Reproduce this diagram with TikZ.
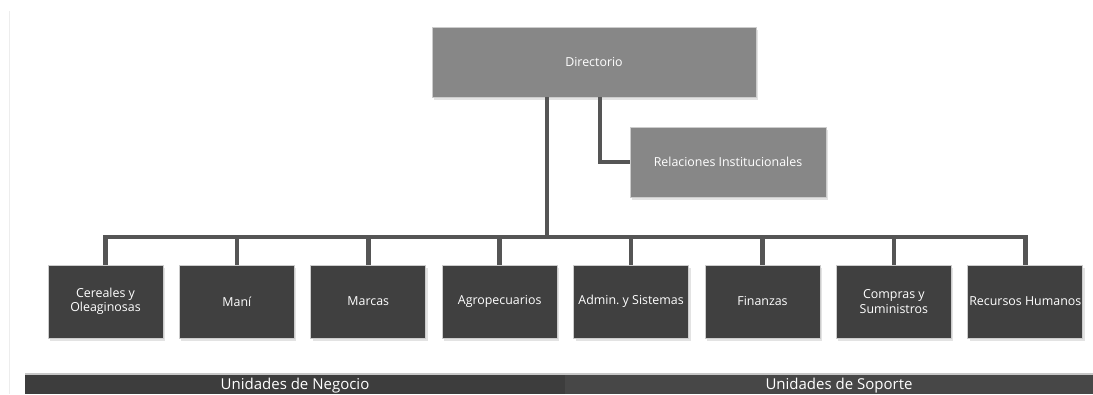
\documentclass[tikz,border=0pt]{standalone}
\usepackage{fontspec}
\setmainfont{Open Sans}
\usetikzlibrary{shadows}
\frenchspacing
\definecolor{cajaclara}{HTML}{878787}
\definecolor{cajaoscura}{HTML}{404040}
\definecolor{linea}{HTML}{555555}
\definecolor{barraneg}{HTML}{3D3D3D}
\definecolor{barrasop}{HTML}{474747}
\tikzset{
  caja/.style={draw=white!80!black, line width=0.8pt, text=white, align=center,
    inner sep=0pt, font=\fontsize{12.4}{14.5}\selectfont,
    drop shadow={shadow xshift=2pt, shadow yshift=-2.5pt, opacity=0.22}},
  jefe/.style={caja, fill=cajaclara},
  unidad/.style={caja, fill=cajaoscura, minimum width=115, minimum height=73},
  conector/.style={draw=linea, line width=4.5pt},
  rotulo/.style={text=white, font=\fontsize{15}{17}\selectfont, inner sep=0pt}
}
\begin{document}
\begin{tikzpicture}[x=1pt,y=1pt,line join=miter]
	\useasboundingbox[fill=white] (0,0) rectangle (1093,-394);
	\draw[black!7, line width=1pt] (9,-11) -- (9,-394);
	% direccion
	\node[jefe, minimum width=324, minimum height=70] (dir) at (594,-62) {Directorio};
	\node[jefe, minimum width=196, minimum height=70] (rel) at (728,-162) {Relaciones Institucionales};
	% unidades
	\foreach \nombre [count=\i] in {{Cereales y\\Oleaginosas},Maní,Marcas,Agropecuarios,
			Admin.\ y Sistemas,Finanzas,{Compras y\\Suministros},Recursos Humanos}
		\node[unidad] (u\i) at ({105.5+131.4*(\i-1)},-301.5) {\nombre};
	\coordinate (bus) at (547,-237);
	\draw[conector] (dir.south -| bus) -- (bus);
	\draw[conector] (dir.south -| 600,0) |- (rel.west);
	\draw[conector] (u1.north) |- (bus) -| (u8.north);
	\foreach \i in {2,...,7}
		\draw[conector] (u\i.north) -- (u\i.north |- bus);
	% barras inferiores
	\fill[black!22] (25,-373) rectangle (1093,-374.5);
	\fill[barraneg] (25,-374.5) rectangle (565,-394);
	\fill[barrasop] (565,-374.5) rectangle (1093,-394);
	\node[rotulo] (neg) at (295,-386) {Unidades de Negocio};
	\node[rotulo] (sop) at (839,-386) {Unidades de Soporte};
\end{tikzpicture}
\end{document}
